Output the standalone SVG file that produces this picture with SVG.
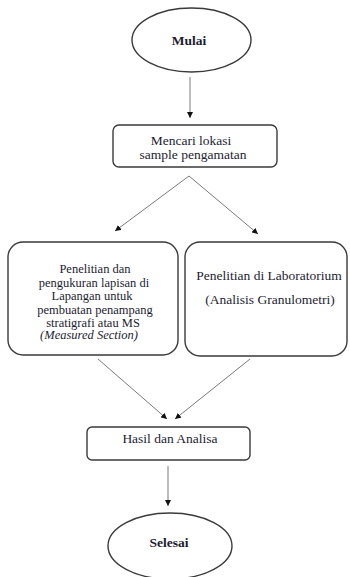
<svg xmlns="http://www.w3.org/2000/svg" width="350" height="577" viewBox="0 0 350 577">
<style>
.node{fill:#fff;stroke:#3a3a3a;stroke-width:1.4}
text{font-family:'Liberation Serif','Times New Roman','DejaVu Serif',serif;font-size:13.5px;fill:#1c1c30;text-anchor:middle}
.s{font-size:12.5px}
.b{font-weight:bold}
.i{font-style:italic}
.c{stroke:#7a7a7a;stroke-width:1;fill:none;marker-end:url(#ah)}
</style>
<defs>
<marker id="ah" viewBox="0 0 10 10" refX="10" refY="5" markerWidth="6" markerHeight="6" markerUnits="userSpaceOnUse" orient="auto">
<path d="M0,0 L10,5 L0,10 z" fill="#111"/>
</marker>
</defs>
<rect width="350" height="577" fill="#fff"/>
<g id="connectors">
<line class="c" x1="190" y1="77" x2="190" y2="118"/>
<line class="c" x1="189" y1="176" x2="115" y2="231"/>
<line class="c" x1="189" y1="176" x2="258" y2="234"/>
<line class="c" x1="98" y1="359" x2="167" y2="419"/>
<line class="c" x1="250" y1="359" x2="175" y2="419"/>
<line class="c" x1="168" y1="466" x2="168" y2="506"/>
</g>
<g id="mulai">
<ellipse class="node" cx="191.5" cy="40" rx="59.5" ry="32"/>
<text class="b" x="189" y="44.5">Mulai</text>
</g>
<g id="mencari">
<rect class="node" x="113" y="125" width="164" height="42" rx="6"/>
<text x="191" y="145">Mencari lokasi</text>
<text x="193" y="159">sample pengamatan</text>
</g>
<g id="lapangan">
<rect class="node" x="8" y="242" width="170" height="113" rx="15"/>
<text class="s" x="95" y="273">Penelitian dan</text>
<text class="s" x="94" y="286.5">pengukuran lapisan di</text>
<text class="s" x="92" y="300">Lapangan untuk</text>
<text class="s" x="95" y="313.5">pembuatan penampang</text>
<text class="s" x="93" y="326.5">stratigrafi atau MS</text>
<text class="s i" x="89" y="339">(Measured Section)</text>
</g>
<g id="laboratorium">
<rect class="node" x="185" y="242" width="162" height="114" rx="15"/>
<text x="269" y="280">Penelitian di Laboratorium</text>
<text x="270" y="304">(Analisis Granulometri)</text>
</g>
<g id="hasil">
<rect class="node" x="87" y="427" width="163" height="33" rx="5"/>
<text x="170" y="442.5">Hasil dan Analisa</text>
</g>
<g id="selesai">
<ellipse class="node" cx="170" cy="546" rx="62" ry="33"/>
<text class="b" x="169" y="546.5">Selesai</text>
</g>
</svg>
